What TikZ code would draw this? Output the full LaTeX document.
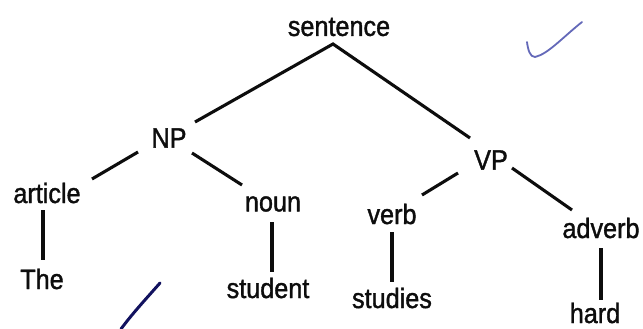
\documentclass[tikz,border=0pt]{standalone}
\usepackage{fontspec}
\setmainfont{Liberation Sans}[FakeBold=1.3,FakeStretch=0.9]
\usetikzlibrary{calc}
\begin{document}
\begin{tikzpicture}[x=1pt,y=-1pt,
  lbl/.style={inner sep=0pt,font=\fontsize{28}{32}\selectfont,text=black!95},
  edge/.style={line width=3.1pt,black!95}]
\useasboundingbox[fill=white] (0,0) rectangle (643,329);
\node[lbl] (sentence) at (339,27) {sentence};
\node[lbl] (NP) at (169,138) {NP};
\node[lbl] (VP) at (491,160) {VP};
\node[lbl] (article) at (47,193) {article};
\node[lbl] (noun) at (273,204) {noun};
\node[lbl] (verb) at (392,214) {verb};
\node[lbl] (adverb) at (601,228) {adverb};
\node[lbl] (The) at (42,279) {The};
\node[lbl] (student) at (268,288) {student};
\node[lbl] (studies) at (392,298) {studies};
\node[lbl] (hard) at (595,313) {hard};
\coordinate (apex) at ($(sentence)+(-6,17)$);
\draw[edge,line join=miter] ($(NP)+(26,-16)$) -- (apex) -- ($(VP)+(-21,-22)$);
\draw[edge] ($(NP)+(-31,14)$) -- ($(article)+(45,-14)$);
\draw[edge] ($(NP)+(23,15)$) -- ($(noun)+(-31,-19)$);
\draw[edge] ($(VP)+(-33,13)$) -- ($(verb)+(30,-19)$);
\draw[edge] ($(VP)+(21,8)$) -- ($(adverb)+(-29,-18)$);
\draw[edge] ($(article)+(-4,17)$) -- ($(The)+(1,-19)$);
\draw[edge] ($(noun)+(-1,18)$) -- ($(student)+(4,-16)$);
\draw[edge] ($(verb)+(0,18)$) -- ($(studies)+(0,-16)$);
\draw[edge] ($(adverb)+(0,20)$) -- ($(hard)+(6,-13)$);
% pen marks
\draw[line width=1.8pt,color={rgb,255:red,100;green,105;blue,185},line cap=round]
  (582,22) .. controls (562,38) and (548,54) .. (535,57) .. controls (530,57) and (528,50) .. (527,42);
\draw[line width=3pt,color={rgb,255:red,18;green,18;blue,95},line cap=round]
  (160,283) .. controls (145,300) and (132,314) .. (121,329);
\end{tikzpicture}
\end{document}
